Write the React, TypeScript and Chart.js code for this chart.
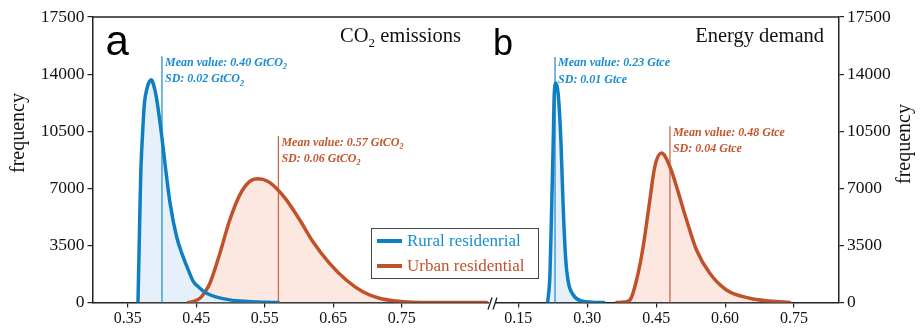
import React, { useEffect, useRef } from "react";
import { Chart, registerables } from "chart.js";
Chart.register(...registerables);

// ---------- data ----------
const co2Ticks = [0.35, 0.45, 0.55, 0.65, 0.75];
const energyTicks = [0.15, 0.3, 0.45, 0.6, 0.75];
const freqTicksStep = 3500;
const freqMax = 17500;

const ruralCo2X = [0.365, 0.3665, 0.368, 0.3692, 0.3715, 0.3744, 0.378, 0.3842, 0.3896, 0.3933, 0.3997, 0.4056, 0.4118, 0.4216, 0.43, 0.4384, 0.4457, 0.453, 0.4652, 0.4773, 0.4991, 0.52, 0.5526, 0.57];
const ruralCo2Y = [0, 3000, 6000, 8100, 10200, 12200, 13100, 13650, 13050, 12200, 10200, 8100, 6100, 4000, 2900, 2000, 1300, 970, 560, 360, 160, 70, 15, 0];

const urbanCo2X = [0.4385, 0.447, 0.4555, 0.463, 0.47, 0.4846, 0.4991, 0.5137, 0.5282, 0.5403, 0.5549, 0.567, 0.5817, 0.601, 0.6204, 0.6447, 0.669, 0.6932, 0.7175, 0.7418, 0.766, 0.8, 0.874];
const urbanCo2Y = [0, 80, 260, 650, 1180, 3020, 5070, 6600, 7420, 7580, 7420, 7010, 6290, 5070, 3730, 2400, 1380, 660, 260, 90, 20, 5, 0];

const ruralEnergyX = [0.2139, 0.2189, 0.2226, 0.2261, 0.2283, 0.232, 0.237, 0.2428, 0.2478, 0.2531, 0.2587, 0.2696, 0.2879, 0.31, 0.3363];
const ruralEnergyY = [0, 1690, 5790, 9880, 12740, 13460, 12740, 9880, 5790, 2710, 1280, 460, 90, 20, 0];

const urbanEnergyX = [0.364, 0.38, 0.3929, 0.4074, 0.4218, 0.4363, 0.4472, 0.4617, 0.4798, 0.4943, 0.516, 0.5378, 0.5667, 0.603, 0.6537, 0.697, 0.7407];
const urbanEnergyY = [0, 30, 150, 1380, 3430, 6290, 8340, 9160, 8340, 7110, 5070, 3220, 1790, 770, 260, 90, 0];

const seriesNames = ["Rural residenrial", "Urban residential"];
const co2Means = [0.4, 0.57];
const co2Sds = [0.02, 0.06];
const energyMeans = [0.23, 0.48];
const energySds = [0.01, 0.04];
// height (frequency units) up to which the mean lines reach
const co2LabelLevels = [15100, 10200];
const energyLabelLevels = [15050, 10800];

// ---------- style ----------
const BLUE = "#0f7fc1";
const BLUE_TEXT = "#1a8dd0";
const BLUE_FILL = "#e6f0fb";
const ORANGE = "#c0522b";
const ORANGE_TEXT = "#c4572e";
const ORANGE_FILL = "#fde8e1";
const AXIS = "#222";
const SERIF = '"Liberation Serif", "Times New Roman", serif';
const SANS = '"Liberation Sans", Arial, sans-serif';

Chart.defaults.font.family = SERIF;
Chart.defaults.color = "#111";

type Part = { t: string; sub?: boolean };

function drawRich(ctx: CanvasRenderingContext2D, parts: Part[], x: number, y: number, size: number, style: string, align: "left" | "right") {
  const main = `${style} ${size}px ${SERIF}`;
  const subSize = Math.round(size * 0.65);
  const subF = `${style} ${subSize}px ${SERIF}`;
  let total = 0;
  const widths = parts.map((p) => {
    ctx.font = p.sub ? subF : main;
    const w = ctx.measureText(p.t).width;
    total += w;
    return w;
  });
  let cx = align === "right" ? x - total : x;
  ctx.textAlign = "left";
  ctx.textBaseline = "alphabetic";
  parts.forEach((p, i) => {
    ctx.font = p.sub ? subF : main;
    ctx.fillText(p.t, cx, p.sub ? y + size * 0.28 : y);
    cx += widths[i];
  });
}

function curve(xs: number[], ys: number[], color: string, fill: string, label: string) {
  return {
    label,
    data: xs.map((x, i) => ({ x, y: ys[i] })),
    borderColor: color,
    backgroundColor: fill,
    borderWidth: 3.5,
    pointRadius: 0,
    fill: "origin",
    cubicInterpolationMode: "monotone" as const,
    borderCapStyle: "round" as const,
    borderJoinStyle: "round" as const,
  };
}

function meanPlugin(means: number[], sds: number[], levels: number[], unit: Part[]) {
  const colors = [BLUE_TEXT, ORANGE_TEXT];
  const lineColors = ["#2a8fcf", "#c96a48"];
  return {
    id: "means",
    beforeDatasetsDraw(chart: any) {
      const ctx = chart.ctx as CanvasRenderingContext2D;
      const xs = chart.scales.x;
      const ys = chart.scales.y;
      ctx.save();
      means.forEach((m, i) => {
        const px = xs.getPixelForValue(m);
        ctx.strokeStyle = lineColors[i];
        ctx.lineWidth = 1.3;
        ctx.beginPath();
        ctx.moveTo(px, ys.getPixelForValue(0));
        ctx.lineTo(px, ys.getPixelForValue(levels[i]));
        ctx.stroke();
      });
      ctx.restore();
    },
    afterDraw(chart: any) {
      const ctx = chart.ctx as CanvasRenderingContext2D;
      const xs = chart.scales.x;
      const ys = chart.scales.y;
      ctx.save();
      means.forEach((m, i) => {
        const px = xs.getPixelForValue(m) + 3;
        const top = ys.getPixelForValue(levels[i]);
        ctx.fillStyle = colors[i];
        drawRich(ctx, [{ t: `Mean value: ${m.toFixed(2)} ` }, ...unit], px, top + 9.5, 12, "italic bold", "left");
        drawRich(ctx, [{ t: `SD: ${sds[i].toFixed(2)} ` }, ...unit], px, top + 26, 12, "italic bold", "left");
      });
      ctx.restore();
    },
  };
}

function axisOpts(min: number, max: number, ticks: number[], h: number) {
  return {
    type: "linear" as const,
    min,
    max,
    afterBuildTicks: (s: any) => {
      s.ticks = ticks.map((v) => ({ value: v }));
    },
    afterFit: (s: any) => {
      s.height = h;
    },
    ticks: {
      callback: (v: any) => Number(v).toFixed(2),
      color: "#111",
      font: { size: 16 },
      padding: 2,
      maxRotation: 0,
      autoSkip: false,
    },
    grid: { drawOnChartArea: false, drawTicks: true, tickLength: 5, color: AXIS, lineWidth: 1.2 },
    border: { display: true, color: AXIS, width: 1.5 },
  };
}

function yOpts(position: "left" | "right", w: number) {
  return {
    type: "linear" as const,
    position,
    min: 0,
    max: freqMax,
    afterFit: (s: any) => {
      s.width = w;
    },
    ticks: {
      stepSize: freqTicksStep,
      callback: (v: any) => String(v),
      color: "#111",
      font: { size: 17.5 },
      padding: 3,
    },
    grid: { drawOnChartArea: false, drawTicks: true, tickLength: 5, color: AXIS, lineWidth: 1.2 },
    border: { display: true, color: AXIS, width: 1.5 },
  };
}

function drawFrequency(ctx: CanvasRenderingContext2D, x: number, y: number) {
  ctx.save();
  ctx.translate(x, y);
  ctx.rotate(-Math.PI / 2);
  ctx.font = `20px ${SERIF}`;
  ctx.fillStyle = "#111";
  ctx.textAlign = "center";
  ctx.textBaseline = "middle";
  ctx.fillText("frequency", 0, 0);
  ctx.restore();
}

function topBorder(ctx: CanvasRenderingContext2D, area: any) {
  ctx.save();
  ctx.strokeStyle = AXIS;
  ctx.lineWidth = 1.5;
  ctx.beginPath();
  ctx.moveTo(area.left, area.top);
  ctx.lineTo(area.right, area.top);
  ctx.stroke();
  ctx.restore();
}

export default function App() {
  const leftRef = useRef<HTMLCanvasElement>(null);
  const rightRef = useRef<HTMLCanvasElement>(null);

  useEffect(() => {
    document.body.style.margin = "0";
    const co2Unit: Part[] = [{ t: "GtCO" }, { t: "2", sub: true }];
    const enUnit: Part[] = [{ t: "Gtce" }];

    const leftDeco = {
      id: "leftDeco",
      afterDraw(chart: any) {
        const ctx = chart.ctx as CanvasRenderingContext2D;
        const a = chart.chartArea;
        topBorder(ctx, a);
        ctx.save();
        ctx.fillStyle = "#000";
        ctx.font = `42px ${SANS}`;
        ctx.textAlign = "left";
        ctx.textBaseline = "alphabetic";
        ctx.fillText("a", a.left + 13, 55);
        ctx.fillStyle = "#111";
        drawRich(ctx, [{ t: "CO" }, { t: "2", sub: true }, { t: " emissions" }], a.right - 29, 41.5, 20.5, "normal", "right");
        drawFrequency(ctx, a.left - 73.5, 133);
        // legend
        const lx = a.right - 119;
        const ly = a.bottom - 74.5;
        ctx.fillStyle = "#fff";
        ctx.fillRect(lx, ly, 167, 50);
        ctx.strokeStyle = "#444";
        ctx.lineWidth = 1;
        ctx.strokeRect(lx + 0.5, ly + 0.5, 167, 50);
        const rows = [
          { c: BLUE, tc: BLUE_TEXT, y: ly + 13 },
          { c: ORANGE, tc: ORANGE, y: ly + 38 },
        ];
        rows.forEach((r, i) => {
          ctx.strokeStyle = r.c;
          ctx.lineWidth = 4;
          ctx.beginPath();
          ctx.moveTo(lx + 6, r.y);
          ctx.lineTo(lx + 31, r.y);
          ctx.stroke();
          ctx.fillStyle = r.tc;
          ctx.font = `17px ${SERIF}`;
          ctx.textBaseline = "middle";
          ctx.fillText(seriesNames[i], lx + 36, r.y + 1);
        });
        ctx.restore();
      },
    };

    const rightDeco = {
      id: "rightDeco",
      afterDraw(chart: any) {
        const ctx = chart.ctx as CanvasRenderingContext2D;
        const a = chart.chartArea;
        topBorder(ctx, a);
        ctx.save();
        ctx.fillStyle = "#000";
        ctx.font = `36px ${SANS}`;
        ctx.textAlign = "left";
        ctx.textBaseline = "alphabetic";
        ctx.fillText("b", a.left + 3, 55);
        ctx.fillStyle = "#111";
        drawRich(ctx, [{ t: "Energy demand" }], a.right - 15, 41.5, 20.5, "normal", "right");
        drawFrequency(ctx, a.right + 66, 144);
        // axis break
        const b = a.bottom;
        const cl = a.left;
        ctx.fillStyle = "#fff";
        ctx.fillRect(cl - 1, b - 2, 6, 4);
        ctx.strokeStyle = AXIS;
        ctx.lineWidth = 1.3;
        ctx.beginPath();
        ctx.moveTo(cl - 2, b + 7);
        ctx.lineTo(cl + 2, b - 5);
        ctx.moveTo(cl + 3, b + 7);
        ctx.lineTo(cl + 7, b - 5);
        ctx.stroke();
        ctx.restore();
      },
    };

    const common = {
      responsive: false,
      animation: false as const,
      events: [] as any[],
      plugins: {
        legend: { display: false },
        tooltip: { enabled: false },
        filler: { propagate: false, drawTime: "beforeDatasetsDraw" as const },
      },
    };

    const c1 = new Chart(leftRef.current!, {
      type: "line",
      data: {
        datasets: [
          curve(ruralCo2X, ruralCo2Y, BLUE, BLUE_FILL, seriesNames[0]),
          curve(urbanCo2X, urbanCo2Y, ORANGE, ORANGE_FILL, seriesNames[1]),
        ] as any,
      },
      options: {
        ...common,
        layout: { padding: { left: 0, right: 431, top: 17, bottom: 0 } },
        scales: {
          x: axisOpts(0.2986, 0.8789, co2Ticks, 30.5),
          y: yOpts("left", 92.5),
        },
      } as any,
      plugins: [meanPlugin(co2Means, co2Sds, co2LabelLevels, co2Unit), leftDeco],
    });

    const c2 = new Chart(rightRef.current!, {
      type: "line",
      data: {
        datasets: [
          curve(ruralEnergyX, ruralEnergyY, BLUE, BLUE_FILL, seriesNames[0]),
          curve(urbanEnergyX, urbanEnergyY, ORANGE, ORANGE_FILL, seriesNames[1]),
        ] as any,
      },
      options: {
        ...common,
        layout: { padding: { left: 20, right: 0, top: 17, bottom: 0 } },
        scales: {
          x: axisOpts(0.0885, 0.8478, energyTicks, 30.5),
          y: yOpts("right", 82),
        },
      } as any,
      plugins: [meanPlugin(energyMeans, energySds, energyLabelLevels, enUnit), rightDeco],
    });

    return () => {
      c1.destroy();
      c2.destroy();
    };
  }, []);

  return (
    <div style={{ position: "fixed", left: 0, top: 0, width: 921, height: 333, background: "#fff" }}>
      <canvas ref={leftRef} width={921} height={333} style={{ position: "absolute", left: 0, top: 0, width: 921, height: 333 }} />
      <canvas ref={rightRef} width={451} height={333} style={{ position: "absolute", left: 470, top: 0, width: 451, height: 333 }} />
    </div>
  );
}
